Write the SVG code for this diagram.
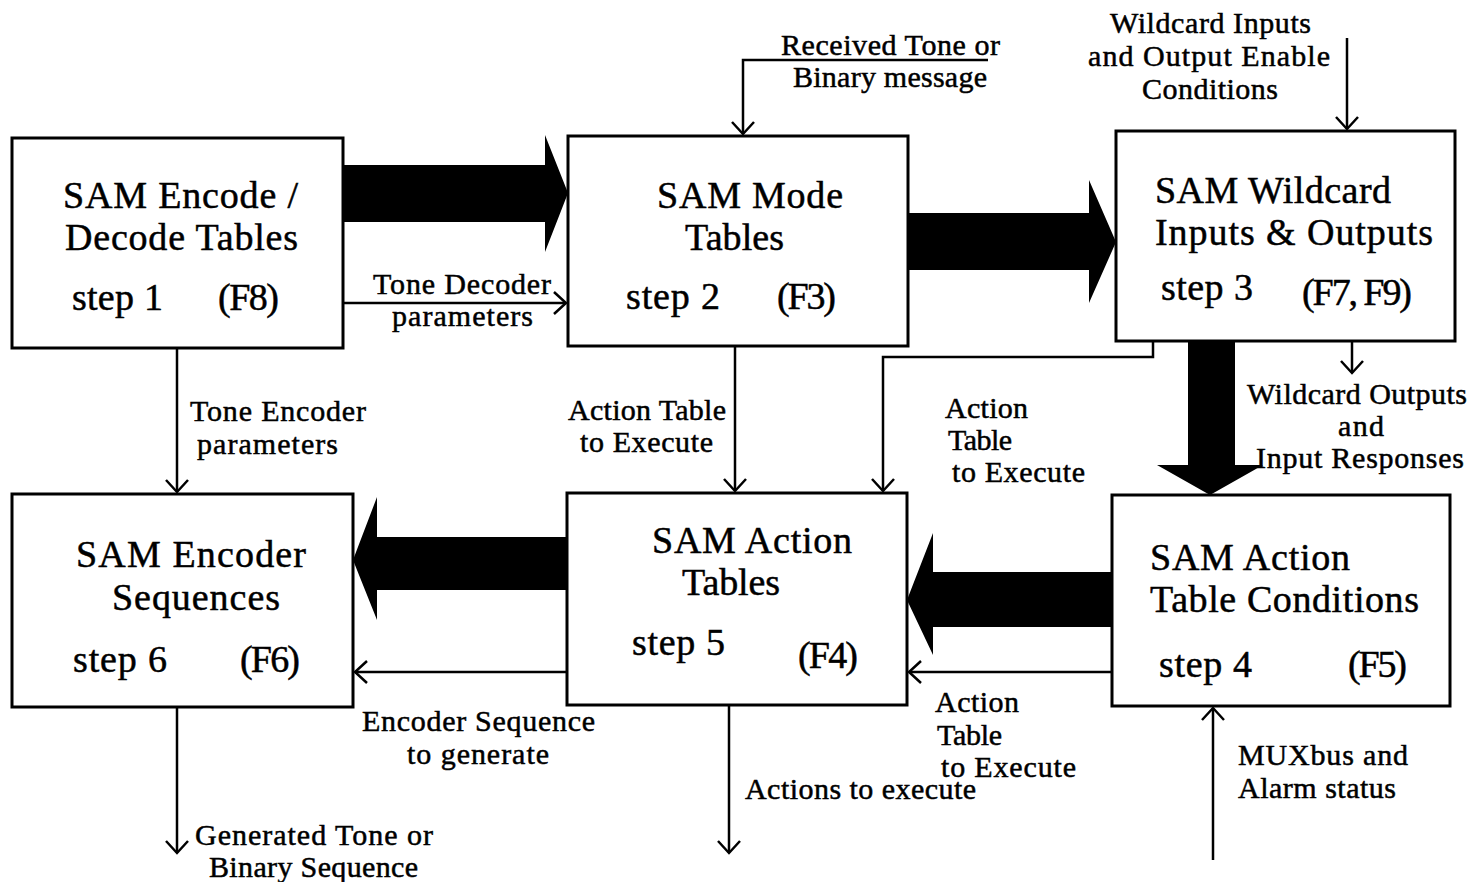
<svg xmlns="http://www.w3.org/2000/svg" width="1483" height="882" viewBox="0 0 1483 882">
<style>
.box{fill:#fff;stroke:#000;stroke-width:3}
.t{font-family:"Liberation Serif","Times New Roman",serif;fill:#000;stroke:#000;stroke-width:0.5}
.title{font-size:38px}
.lbl{font-size:30px}
.ln{fill:none;stroke:#000;stroke-width:2.5}
.thick{fill:#000;stroke:none}
</style>
<defs>
<marker id="open" markerUnits="userSpaceOnUse" markerWidth="24" markerHeight="26" viewBox="0 0 24 26" refX="13" refY="13" orient="auto">
<path d="M1,2 L13,13 L1,24" fill="none" stroke="#000" stroke-width="2.5"/>
</marker>
</defs>
<rect width="1483" height="882" fill="#fff"/>
<g id="connectors">
<polygon class="thick" points="343,165 545,165 545,135 568,193 545,252 545,222 343,222"/>
<polygon class="thick" points="908,213 1089,213 1089,180 1116,242 1089,303 1089,270 908,270"/>
<polygon class="thick" points="1188,341 1235,341 1235,465 1263,465 1210,495 1157,465 1188,465"/>
<polygon class="thick" points="1112,572 933,572 933,533 907,600 933,655 933,627 1112,627"/>
<polygon class="thick" points="567,537 377,537 377,497 353,560 377,620 377,590 567,590"/>
<path class="ln" d="M343,303 L566,303" marker-end="url(#open)"/>
<path class="ln" d="M177,348 L177,492" marker-end="url(#open)"/>
<path class="ln" d="M735,346 L735,491" marker-end="url(#open)"/>
<path class="ln" d="M1153,341 L1153,357 L883,357 L883,491" marker-end="url(#open)"/>
<path class="ln" d="M1352,341 L1352,373" marker-end="url(#open)"/>
<path class="ln" d="M1347,38 L1347,129" marker-end="url(#open)"/>
<path class="ln" d="M988,60 L743,60 L743,134" marker-end="url(#open)"/>
<path class="ln" d="M567,672 L355,672" marker-end="url(#open)"/>
<path class="ln" d="M1112,672 L909,672" marker-end="url(#open)"/>
<path class="ln" d="M177,707 L177,853" marker-end="url(#open)"/>
<path class="ln" d="M729,705 L729,853" marker-end="url(#open)"/>
<path class="ln" d="M1213,860 L1213,708" marker-end="url(#open)"/>
</g>
<g id="n1">
<rect class="box" x="12" y="138" width="331" height="210"/>
<text class="t title" x="63" y="208" textLength="235">SAM Encode /</text>
<text class="t title" x="65" y="250" textLength="233">Decode Tables</text>
<text class="t title" x="72" y="310" textLength="91">step 1</text>
<text class="t title" x="218" y="310" textLength="61">(F8)</text>
</g>
<g id="n2">
<rect class="box" x="568" y="136" width="340" height="210"/>
<text class="t title" x="657" y="208" textLength="186">SAM Mode</text>
<text class="t title" x="685" y="250" textLength="99">Tables</text>
<text class="t title" x="626" y="309" textLength="94">step 2</text>
<text class="t title" x="777" y="309" textLength="59">(F3)</text>
</g>
<g id="n3">
<rect class="box" x="1116" y="131" width="339" height="210"/>
<text class="t title" x="1155" y="203" textLength="236">SAM Wildcard</text>
<text class="t title" x="1155" y="245" textLength="278">Inputs &amp; Outputs</text>
<text class="t title" x="1161" y="300" textLength="92">step 3</text>
<text class="t title" x="1302" y="305" textLength="110">(F7, F9)</text>
</g>
<g id="n4">
<rect class="box" x="1112" y="495" width="338" height="211"/>
<text class="t title" x="1150" y="570" textLength="200">SAM Action</text>
<text class="t title" x="1150" y="612" textLength="269">Table Conditions</text>
<text class="t title" x="1159" y="677" textLength="93">step 4</text>
<text class="t title" x="1348" y="677" textLength="59">(F5)</text>
</g>
<g id="n5">
<rect class="box" x="567" y="493" width="340" height="212"/>
<text class="t title" x="652" y="553" textLength="200">SAM Action</text>
<text class="t title" x="682" y="595" textLength="98">Tables</text>
<text class="t title" x="632" y="655" textLength="93">step 5</text>
<text class="t title" x="798" y="668" textLength="60">(F4)</text>
</g>
<g id="n6">
<rect class="box" x="12" y="494" width="341" height="213"/>
<text class="t title" x="76" y="567" textLength="230">SAM Encoder</text>
<text class="t title" x="112" y="610" textLength="168">Sequences</text>
<text class="t title" x="73" y="672" textLength="94">step 6</text>
<text class="t title" x="240" y="672" textLength="60">(F6)</text>
</g>
<g id="labels">
<text class="t lbl" x="781" y="55" textLength="219">Received Tone or</text>
<text class="t lbl" x="793" y="87" textLength="194">Binary message</text>
<text class="t lbl" x="1110" y="33" textLength="201">Wildcard Inputs</text>
<text class="t lbl" x="1088" y="66" textLength="242">and Output Enable</text>
<text class="t lbl" x="1142" y="99" textLength="136">Conditions</text>
<text class="t lbl" x="373" y="294" textLength="178">Tone Decoder</text>
<text class="t lbl" x="392" y="326" textLength="141">parameters</text>
<text class="t lbl" x="190" y="421" textLength="176">Tone Encoder</text>
<text class="t lbl" x="197" y="454" textLength="141">parameters</text>
<text class="t lbl" x="568" y="420" textLength="158">Action Table</text>
<text class="t lbl" x="580" y="452" textLength="133">to Execute</text>
<text class="t lbl" x="945" y="418" textLength="83">Action</text>
<text class="t lbl" x="948" y="450" textLength="64">Table</text>
<text class="t lbl" x="952" y="482" textLength="133">to Execute</text>
<text class="t lbl" x="1247" y="404" textLength="220">Wildcard Outputs</text>
<text class="t lbl" x="1338" y="436" textLength="46">and</text>
<text class="t lbl" x="1256" y="468" textLength="208">Input Responses</text>
<text class="t lbl" x="362" y="731" textLength="233">Encoder Sequence</text>
<text class="t lbl" x="407" y="764" textLength="142">to generate</text>
<text class="t lbl" x="935" y="712" textLength="84">Action</text>
<text class="t lbl" x="937" y="745" textLength="65">Table</text>
<text class="t lbl" x="941" y="777" textLength="135">to Execute</text>
<text class="t lbl" x="745" y="799" textLength="231">Actions to execute</text>
<text class="t lbl" x="1238" y="765" textLength="170">MUXbus and</text>
<text class="t lbl" x="1238" y="798" textLength="158">Alarm status</text>
<text class="t lbl" x="195" y="845" textLength="238">Generated Tone or</text>
<text class="t lbl" x="209" y="877" textLength="209">Binary Sequence</text>
</g>
</svg>
